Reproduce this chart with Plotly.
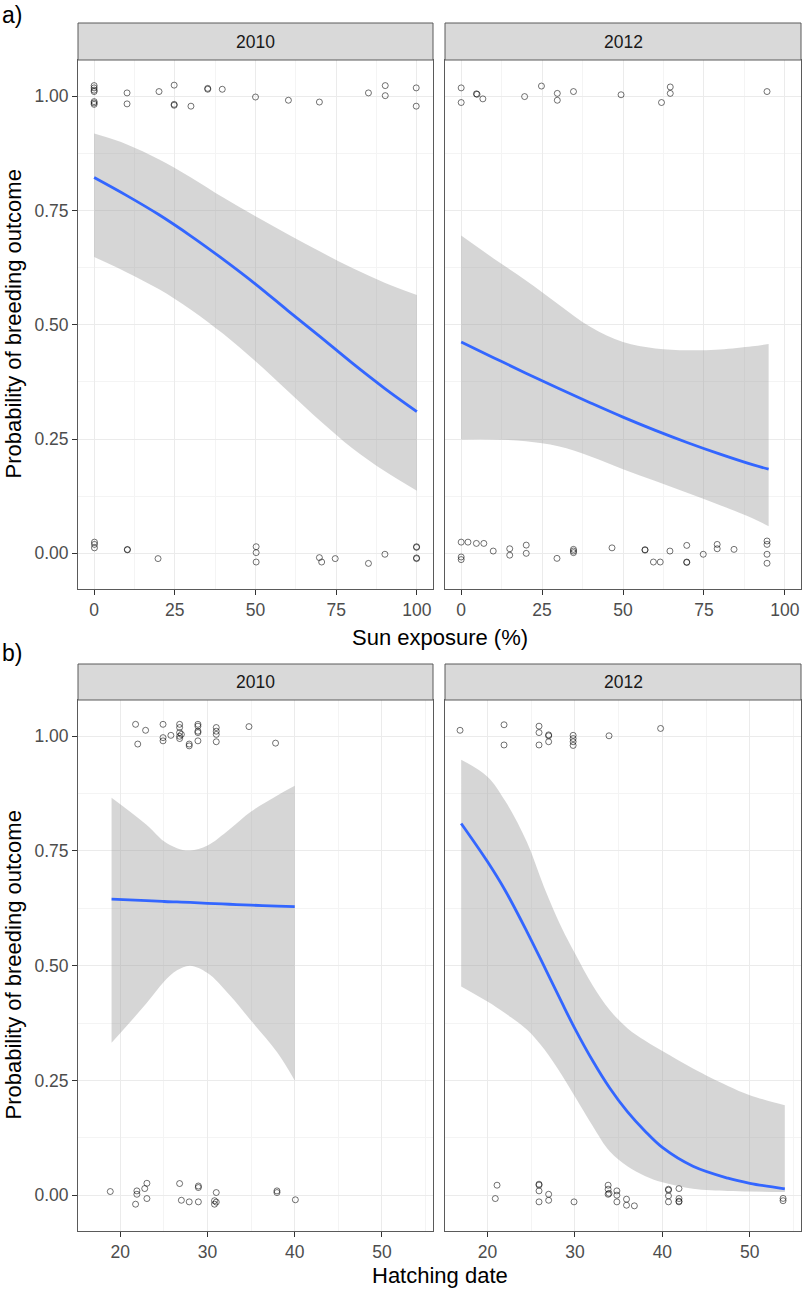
import plotly.graph_objects as go

W, H = 805, 1291

# ---- panel a: sun exposure (%) ----
sun10_x = [0, 0, 0, 0, 0, 0, 0, 10.2, 10.2, 20.1, 24.8, 24.8, 24.8, 30, 35.2, 35.2, 39.7,
           50, 60.2, 69.8, 85, 90.2, 90.2, 99.8, 99.8,
           0.1, 0.1, 0.1, 10.3, 10.3, 19.8, 50.2, 50.2, 50.2, 69.8, 70.5, 74.7, 85, 90.1,
           99.9, 99.9, 99.9, 99.9]
sun10_y = [1.023, 1.018, 1.013, 1.010, 0.988, 0.985, 0.982, 1.007, 0.983, 1.010, 1.024, 0.980,
           0.982, 0.978, 1.017, 1.015, 1.015, 0.998, 0.991, 0.987, 1.007, 1.023, 1.001, 1.018,
           0.978,
           0.0245, 0.0195, 0.012, 0.0076, 0.0085, -0.0115, 0.0145, 0.0015, -0.019, -0.0094,
           -0.019, -0.0115, -0.022, -0.002, 0.0145, 0.013, -0.0115, -0.010]

sun12_x = [0, 0, 4.7, 4.9, 6.7, 19.6, 24.8, 29.7, 29.7, 34.7, 49.4, 61.9, 64.6, 64.6, 94.5,
           0, 2.1, 4.7, 7.0, 0, 0, 9.9, 15, 15, 20.1, 20.1, 29.6, 34.7, 34.7, 34.7, 46.6,
           56.8, 56.8, 59.4, 61.5, 64.5, 69.7, 69.7, 69.7, 74.8, 79.1, 79.1, 84.3,
           94.5, 94.5, 94.5, 94.5]
sun12_y = [1.018, 0.986, 1.005, 1.004, 0.994, 0.999, 1.022, 1.006, 0.991, 1.010, 1.003, 0.986,
           1.020, 1.006, 1.010,
           0.0245, 0.0245, 0.0217, 0.0217, -0.008, -0.0137, 0.005, 0.010, -0.004, 0.018, 0.0,
           -0.011, 0.0087, 0.0015, 0.005, 0.012, 0.007, 0.008, -0.019, -0.019, 0.005, 0.0174,
           -0.020, -0.019, -0.002, 0.0195, 0.010, 0.0087, 0.027, 0.0195, -0.002, -0.0217]

sun10_fit_x = [0, 10, 20, 30, 40, 50, 60, 70, 80, 90, 100]
sun10_fit = [0.822, 0.783, 0.741, 0.694, 0.643, 0.589, 0.531, 0.474, 0.416, 0.361, 0.31]
sun10_hi = [0.918, 0.895, 0.862, 0.822, 0.778, 0.737, 0.698, 0.66, 0.624, 0.592, 0.565]
sun10_lo = [0.648, 0.615, 0.578, 0.533, 0.48, 0.42, 0.355, 0.29, 0.23, 0.18, 0.137]

sun12_fit_x = [0, 10, 20, 30, 40, 50, 60, 70, 80, 90, 95]
sun12_fit = [0.462, 0.428, 0.394, 0.361, 0.329, 0.298, 0.269, 0.242, 0.217, 0.194, 0.184]
sun12_hi = [0.695, 0.645, 0.597, 0.545, 0.495, 0.462, 0.448, 0.444, 0.446, 0.453, 0.458]
sun12_lo = [0.249, 0.249, 0.245, 0.234, 0.212, 0.184, 0.158, 0.132, 0.105, 0.077, 0.059]

# ---- panel b: hatching date ----
hat10_x = [21.75, 22.9, 22.0, 24.9, 24.9, 24.9, 25.8, 26.8, 26.8, 26.8, 26.8, 26.8, 27.0,
           27.9, 27.9, 28.9, 28.9, 28.9, 28.9, 28.9, 31.0, 31.0, 31.0, 31.0, 34.75, 37.8,
           18.85, 21.75, 21.9, 21.9, 22.8, 23.05, 23.05, 26.8, 27.0, 27.9, 28.95, 28.95,
           28.95, 31.0, 30.8, 30.8, 31.0, 37.96, 37.96, 40.07]
hat10_y = [1.026, 1.013, 0.983, 1.026, 0.997, 0.990, 1.002, 1.026, 1.019, 1.008, 1.000, 0.995,
           1.004, 0.983, 0.979, 1.026, 1.022, 1.011, 1.008, 0.990, 1.019, 1.011, 1.004, 0.988,
           1.021, 0.985,
           0.008, -0.0196, 0.0094, 0.002, 0.0145, 0.026, -0.0073, 0.0254, -0.011, -0.0145,
           0.020, 0.0167, -0.0145, 0.0058, -0.012, -0.0196, -0.015, 0.0094, 0.0058, -0.010]

hat12_x = [16.87, 21.9, 21.9, 25.9, 25.9, 25.9, 27.0, 27.0, 27.0, 29.8, 29.8, 29.8, 29.8,
           33.9, 39.8,
           21.1, 20.9, 25.9, 25.9, 25.9, 25.9, 27.0, 27.0, 29.9, 33.8, 33.8, 33.8, 33.9, 34.8,
           34.8, 34.8, 35.9, 35.9, 36.8, 40.7, 40.7, 40.7, 40.7, 41.9, 41.9, 41.9, 41.9,
           53.8, 53.8]
hat12_y = [1.013, 1.025, 0.981, 1.022, 1.008, 0.981, 1.001, 1.003, 0.988, 1.002, 0.995, 0.988,
           0.980, 1.001, 1.017,
           0.0218, -0.0073, 0.024, 0.022, 0.0094, -0.0145, 0.002, -0.011, -0.0145, 0.0218,
           0.013, 0.002, 0.004, 0.0094, 0.0, -0.0145, -0.0087, -0.0218, -0.0232, 0.013, 0.011,
           -0.0015, -0.0145, 0.0145, -0.0073, -0.0145, -0.013, -0.007, -0.012]

hat10_fit_x = [19, 23, 25, 26.5, 28, 30, 32.5, 35, 38, 40]
hat10_fit = [0.645, 0.642, 0.640, 0.639, 0.638, 0.636, 0.634, 0.632, 0.630, 0.629]
hat10_hi = [0.866, 0.807, 0.771, 0.756, 0.751, 0.762, 0.797, 0.836, 0.871, 0.892]
hat10_lo = [0.332, 0.418, 0.465, 0.49, 0.50, 0.484, 0.437, 0.38, 0.311, 0.25]

hat12_fit_x = [17, 20, 22, 24.5, 26.5, 28.5, 30, 32, 34, 36, 38, 40, 43.5, 47.5, 50, 54]
hat12_fit = [0.81, 0.727, 0.665, 0.575, 0.498, 0.42, 0.363, 0.294, 0.233, 0.182, 0.14, 0.104,
             0.063, 0.037, 0.026, 0.014]
hat12_hi = [0.949, 0.912, 0.86, 0.77, 0.67, 0.582, 0.527, 0.458, 0.403, 0.364, 0.337, 0.314,
            0.276, 0.238, 0.218, 0.196]
hat12_lo = [0.455, 0.422, 0.397, 0.361, 0.318, 0.262, 0.215, 0.152, 0.095, 0.063, 0.042, 0.028,
            0.014, 0.009, 0.008, 0.007]

years = ["2010", "2012"]
y_ticks = [0, 0.25, 0.5, 0.75, 1.0]
sun_ticks = [0, 25, 50, 75, 100]
hat_ticks = [20, 30, 40, 50]

# pixel layout of the facets
LEFT, RIGHT = (78, 433), (445, 801)
ROW_A, ROW_B = (60, 589), (700, 1231)
STRIP_A, STRIP_B = (23, 60), (664, 700)

FONT = "Liberation Sans, Arial, sans-serif"
RIBBON = "rgba(153,153,153,0.4)"
BLUE = "#3366FF"


def fx(p):
    return p / W


def fy(p):
    return 1 - p / H


panels = [
    dict(px=sun10_x, py=sun10_y, fx=sun10_fit_x, fit=sun10_fit, lo=sun10_lo, hi=sun10_hi,
         col=LEFT, row=ROW_A, xr=[-5, 105], xt=sun_ticks, minor=12.5),
    dict(px=sun12_x, py=sun12_y, fx=sun12_fit_x, fit=sun12_fit, lo=sun12_lo, hi=sun12_hi,
         col=RIGHT, row=ROW_A, xr=[-5, 105], xt=sun_ticks, minor=12.5),
    dict(px=hat10_x, py=hat10_y, fx=hat10_fit_x, fit=hat10_fit, lo=hat10_lo, hi=hat10_hi,
         col=LEFT, row=ROW_B, xr=[15.15, 55.85], xt=hat_ticks, minor=5),
    dict(px=hat12_x, py=hat12_y, fx=hat12_fit_x, fit=hat12_fit, lo=hat12_lo, hi=hat12_hi,
         col=RIGHT, row=ROW_B, xr=[15.15, 55.85], xt=hat_ticks, minor=5),
]

fig = go.Figure()
layout = {}

for i, p in enumerate(panels, start=1):
    sfx = "" if i == 1 else str(i)
    xa, ya = "x" + sfx, "y" + sfx

    # raw observations
    fig.add_trace(go.Scatter(
        x=p["px"], y=p["py"], mode="markers", xaxis=xa, yaxis=ya, showlegend=False,
        marker=dict(symbol="circle-open", size=6, color="rgba(0,0,0,0.55)",
                    line=dict(width=1))))
    # confidence ribbon
    fig.add_trace(go.Scatter(
        x=p["fx"], y=p["lo"], mode="lines", xaxis=xa, yaxis=ya, showlegend=False,
        line=dict(width=0, shape="spline", smoothing=1), hoverinfo="skip"))
    fig.add_trace(go.Scatter(
        x=p["fx"], y=p["hi"], mode="lines", xaxis=xa, yaxis=ya, showlegend=False,
        fill="tonexty", fillcolor=RIBBON,
        line=dict(width=0, shape="spline", smoothing=1), hoverinfo="skip"))
    # fitted logistic curve
    fig.add_trace(go.Scatter(
        x=p["fx"], y=p["fit"], mode="lines", xaxis=xa, yaxis=ya, showlegend=False,
        line=dict(color=BLUE, width=2.8, shape="spline", smoothing=1)))

    common = dict(showline=True, mirror=True, linecolor="#5a5a5a", linewidth=1,
                  gridcolor="#EBEBEB", gridwidth=1, zeroline=False,
                  ticks="outside", ticklen=5, tickcolor="#333333", tickwidth=1,
                  tickfont=dict(family=FONT, size=17.5, color="#4D4D4D"))
    layout["xaxis" + sfx] = dict(
        common, domain=[fx(p["col"][0]), fx(p["col"][1])], range=p["xr"],
        tickvals=p["xt"], anchor=ya,
        minor=dict(dtick=p["minor"], tick0=0, showgrid=True, gridcolor="#F4F4F4",
                   gridwidth=0.6))
    ya_cfg = dict(
        common, domain=[fy(p["row"][1]), fy(p["row"][0])], range=[-0.078, 1.079],
        tickvals=y_ticks, tickformat=".2f", anchor=xa,
        minor=dict(dtick=0.125, tick0=0, showgrid=True, gridcolor="#F4F4F4",
                   gridwidth=0.6))
    if p["col"] == RIGHT:
        ya_cfg.update(showticklabels=False, ticks="")
    layout["yaxis" + sfx] = ya_cfg

shapes = []
annotations = []
for strip in (STRIP_A, STRIP_B):
    for j, col in enumerate((LEFT, RIGHT)):
        shapes.append(dict(type="rect", xref="paper", yref="paper",
                           x0=fx(col[0]), x1=fx(col[1]), y0=fy(strip[1]), y1=fy(strip[0]),
                           fillcolor="#D9D9D9", line=dict(color="#5a5a5a", width=1),
                           layer="above"))
        annotations.append(dict(text=years[j], xref="paper", yref="paper",
                                x=fx((col[0] + col[1]) / 2), y=fy((strip[0] + strip[1]) / 2),
                                xanchor="center", yanchor="middle", showarrow=False,
                                font=dict(family=FONT, size=17.5, color="#1A1A1A")))

title_font = dict(family=FONT, size=22, color="#000000")
mid_x = fx((LEFT[0] + RIGHT[1]) / 2)
for row, xtitle, ty, label, ly in ((ROW_A, "Sun exposure (%)", 637, "a)", 15),
                                   (ROW_B, "Hatching date", 1275, "b)", 653)):
    annotations.append(dict(text=xtitle, xref="paper", yref="paper", x=mid_x, y=fy(ty),
                            xanchor="center", yanchor="middle", showarrow=False,
                            font=title_font))
    annotations.append(dict(text="Probability of breeding outcome", xref="paper",
                            yref="paper", x=fx(13), y=fy((row[0] + row[1]) / 2),
                            textangle=-90, xanchor="center", yanchor="middle",
                            showarrow=False, font=title_font))
    annotations.append(dict(text=label, xref="paper", yref="paper", x=0, y=fy(ly),
                            xanchor="left", yanchor="middle", showarrow=False,
                            font=dict(family=FONT, size=23, color="#000000")))

fig.update_layout(
    width=W, height=H,
    margin=dict(l=0, r=0, t=0, b=0),
    paper_bgcolor="white", plot_bgcolor="white",
    shapes=shapes, annotations=annotations,
    showlegend=False,
    **layout
)

# drop the page's default body margin so the figure sits at the window origin
fig.write_html("out.html", config={"displayModeBar": False},
               post_script="document.body.style.margin = '0';")
